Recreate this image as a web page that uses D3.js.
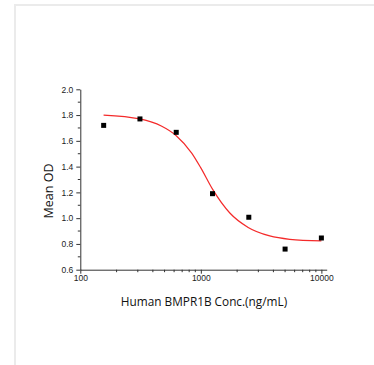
<!DOCTYPE html>
<html>
<head>
<meta charset="utf-8">
<script src="https://cdn.jsdelivr.net/npm/d3@7"></script>
<style>
  body { margin: 0; background: #fff; }
  svg { display: block; font-family: "Open Sans", "Liberation Sans", sans-serif; }
</style>
</head>
<body>
<div id="chart-area"></div>
<script>
// measured points
var conc = [156.25, 312.5, 625, 1250, 2500, 5000, 10000];
var meanOD = [1.72, 1.77, 1.666, 1.19, 1.007, 0.76, 0.846];

// fitted curve
var curveConc = [156, 312, 470, 625, 840, 1000, 1250, 1740, 2470, 3730, 5460, 10000];
var curveOD = [1.80, 1.77, 1.715, 1.64, 1.505, 1.39, 1.225, 1.04, 0.928, 0.862, 0.836, 0.823];

var xTicks = [100, 1000, 10000];
var xMinor = [200, 300, 400, 500, 600, 700, 800, 900, 2000, 3000, 4000, 5000, 6000, 7000, 8000, 9000];
var yTicks = [0.6, 0.8, 1.0, 1.2, 1.4, 1.6, 1.8, 2.0];
var yMinor = [0.7, 0.9, 1.1, 1.3, 1.5, 1.7, 1.9];

var width = 374;
var height = 365;

var svg = d3.select("#chart-area").append("svg")
	.attr("width", width)
	.attr("height", height);

// light frame round the picture
svg.append("rect")
	.attr("x", 15).attr("y", 5)
	.attr("width", width).attr("height", height)
	.attr("fill", "none")
	.attr("stroke", "#ebebeb")
	.attr("stroke-width", 2);

var x = d3.scaleLog()
	.domain([100, 11070])
	.range([80.3, 326.7]);

var y = d3.scaleLinear()
	.domain([0.6, 2.0])
	.range([269.7, 89.3]);

var axisColor = "#333";

// x axis
var bottomAxis = d3.axisBottom(x)
	.tickValues(xTicks)
	.tickSize(4)
	.tickSizeOuter(0)
	.tickFormat(d3.format("d"));

var gx = svg.append("g")
	.attr("transform", "translate(0," + y(0.6) + ")")
	.call(bottomAxis);
gx.selectAll("text").attr("font-size", "8.5px").attr("fill", "#222").attr("dy", "0.55em");

gx.selectAll(".minor").data(xMinor).enter()
	.append("line")
		.attr("class", "minor")
		.attr("x1", (d) => x(d)).attr("x2", (d) => x(d))
		.attr("y1", 0).attr("y2", 2.5)
		.attr("stroke", axisColor);

// y axis
var leftAxis = d3.axisLeft(y)
	.tickValues(yTicks)
	.tickSize(4)
	.tickSizeOuter(0)
	.tickFormat(d3.format(".1f"));

var gy = svg.append("g")
	.attr("transform", "translate(" + x(100) + ",0)")
	.call(leftAxis);
gy.selectAll("text").attr("font-size", "8.5px").attr("fill", "#222");

gy.selectAll(".minor").data(yMinor).enter()
	.append("line")
		.attr("class", "minor")
		.attr("y1", (d) => y(d)).attr("y2", (d) => y(d))
		.attr("x1", 0).attr("x2", -2.5)
		.attr("stroke", axisColor);

svg.selectAll(".domain, .tick line").attr("stroke", axisColor);

// fitted curve
var line = d3.line()
	.x((d, i) => x(curveConc[i]))
	.y((d) => y(d))
	.curve(d3.curveMonotoneX);

svg.append("path")
	.datum(curveOD)
	.attr("d", line)
	.attr("fill", "none")
	.attr("stroke", "#f42a2a")
	.attr("stroke-width", 1.2);

// points
svg.selectAll(".pt").data(meanOD).enter()
	.append("rect")
		.attr("class", "pt")
		.attr("x", (d, i) => x(conc[i]) - 2.5)
		.attr("y", (d) => y(d) - 2.5)
		.attr("width", 5)
		.attr("height", 5)
		.attr("fill", "#000");

// labels
svg.append("text")
	.attr("x", 204)
	.attr("y", 306)
	.attr("font-size", "11.8px")
	.attr("text-anchor", "middle")
	.attr("fill", "#111")
	.text("Human BMPR1B Conc.(ng/mL)");

svg.append("text")
	.attr("transform", "translate(53,191) rotate(-90)")
	.attr("font-size", "12.5px")
	.attr("text-anchor", "middle")
	.attr("fill", "#111")
	.text("Mean OD");
</script>
</body>
</html>
